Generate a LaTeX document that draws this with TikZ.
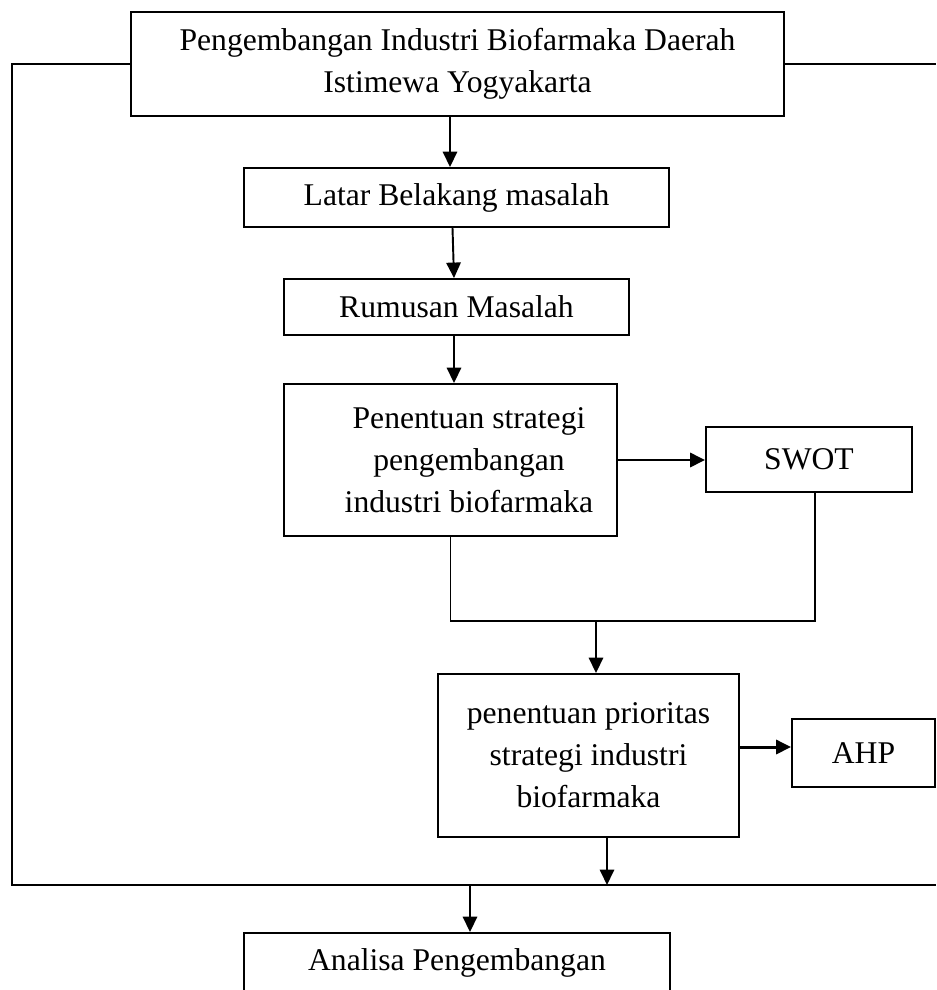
\documentclass[tikz,border=0pt]{standalone}
\usepackage{fontspec}
\setmainfont{Liberation Serif}
\usetikzlibrary{arrows.meta}
\tikzset{
  kotak/.style={draw,line width=1.1pt,align=center,inner sep=0pt,
    font=\fontsize{18}{24}\selectfont},
  garis/.style={line width=1.1pt},
  panah/.style={line width=1.1pt,-{Triangle[length=8.8pt,width=8.2pt]}},
  panahtebal/.style={line width=1.7pt,-{Triangle[length=8.5pt,width=8pt]}}
}
\begin{document}
\begin{tikzpicture}[x=0.02cm,y=-0.02cm]
        \clip (0,0) rectangle (936,990);

        \node (dasar) at (457.5,64) [kotak,minimum width=13.06cm,minimum height=2.08cm]
          {Pengembangan Industri Biofarmaka Daerah\\Istimewa Yogyakarta};
        \node (latar) at (456.5,197.5) [kotak,minimum width=8.5cm,minimum height=1.18cm]
          {Latar Belakang masalah};
        \node (rumusan) at (456.5,307) [kotak,minimum width=6.9cm,minimum height=1.12cm]
          {Rumusan Masalah};
        \node (strategi) at (450.5,460) [kotak,minimum width=6.66cm,minimum height=3.04cm]
          {\hspace*{0.74cm}Penentuan strategi\\\hspace*{0.74cm}pengembangan\\\hspace*{0.74cm}industri biofarmaka};
        \node (swot) at (809,459.5) [kotak,minimum width=4.12cm,minimum height=1.3cm]
          {SWOT};
        \node (prioritas) at (588.5,755.5) [kotak,minimum width=6.02cm,minimum height=3.26cm]
          {penentuan prioritas\\strategi industri\\biofarmaka};
        \node (ahp) at (863.5,753) [kotak,minimum width=2.86cm,minimum height=1.36cm]
          {AHP};
        \node (analisa) at (457,963) [kotak,minimum width=8.52cm,minimum height=1.2cm]
          {Analisa Pengembangan};

        \coordinate (kiribawah) at (12,885);
        \coordinate (kananbawah) at (936,885);
        \coordinate (kananatas) at (936,64);
        \coordinate (gabung) at (596,621);
        \coordinate (cabang) at (470,885);

        \draw[garis] (dasar.west) -- (dasar.west -| kiribawah) -- (kiribawah) -- (kananbawah);
        \draw[garis] (dasar.east) -- (kananatas);

        \draw[panah] ([xshift=-0.15cm]dasar.south) -- ([xshift=-0.13cm]latar.north);
        \draw[panah] ([xshift=-0.08cm]latar.south) -- ([xshift=-0.05cm]rumusan.north);
        \draw[panah] ([xshift=-0.05cm]rumusan.south) -- ([xshift=0.07cm]strategi.north);
        \draw[panahtebal] (strategi.east) -- (strategi.east -| swot.west);

        \draw[garis] (strategi.south) |- (gabung) -| ([xshift=0.12cm]swot.south);
        \draw[panah] (gabung) -- (gabung |- prioritas.north);

        \draw[panahtebal] ([yshift=0.17cm]prioritas.east) -- ([yshift=0.17cm]prioritas.east -| ahp.west);
        \draw[panah] ([xshift=0.37cm]prioritas.south) -- ([xshift=0.37cm]prioritas.south |- kiribawah);
        \draw[panah] (cabang) -- (cabang |- analisa.north);
\end{tikzpicture}
\end{document}
